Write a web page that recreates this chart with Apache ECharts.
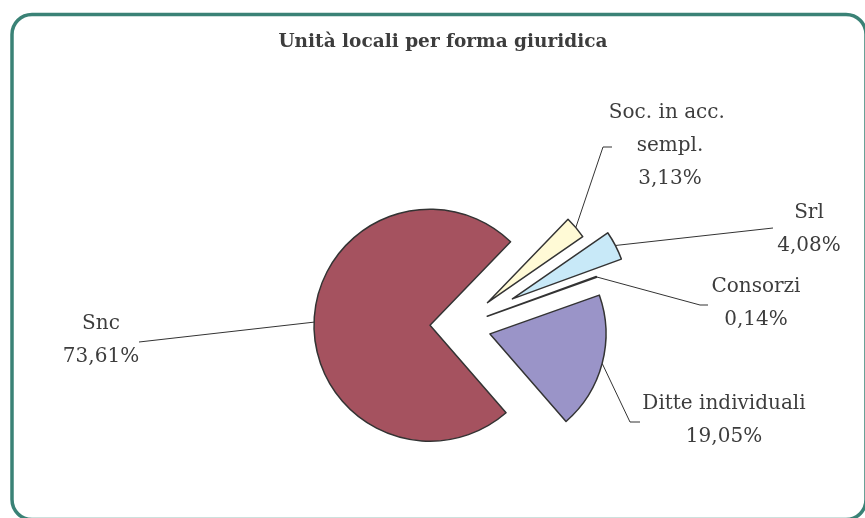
<!DOCTYPE html>
<html><head><meta charset="utf-8">
<script src="https://cdn.jsdelivr.net/npm/echarts@6/dist/echarts.min.js"></script>
<style>html,body{margin:0;padding:0;background:#fff}#c{width:865px;height:518px}</style>
</head><body><div id="c"></div>
<script>
const title = 'Unità locali per forma giuridica';
const categories = ['Soc. in acc. sempl.', 'Srl', 'Consorzi', 'Ditte individuali', 'Snc'];
const values = [3.13, 4.08, 0.14, 19.05, 73.61];

const colors = ['#FFFAD6', '#C8E9F8', '#FFFFFF', '#9A94C8', '#A5525F'];
const explode = [36, 59, 29, 31, 30];
const labelPos = [[670, 146], [809, 229], [756, 303], [724, 420], [101, 340]];
const labelBend = [[603, 147, 612, 147], [773, 228, 773, 228], [700, 305, 708, 305], [630, 422, 640, 422], [139, 342, 139, 342]];
const labelWidths = [135, 80, 120, 240, 100];
const FONT = 'DejaVu Serif';
const BASE = [460, 326];
const START = 46;

const total = values.reduce((a, b) => a + b, 0);
let cum = 0;
const chart = echarts.init(document.getElementById('c'));
const series = categories.map((cat, i) => {
  const mid = (START - (cum + values[i] / 2) / total * 360) * Math.PI / 180;
  cum += values[i];
  return {
    type: 'pie',
    center: [BASE[0] + explode[i] * Math.cos(mid), BASE[1] - explode[i] * Math.sin(mid)],
    radius: [0, 116],
    startAngle: START,
    clockwise: true,
    avoidLabelOverlap: false,
    emphasis: { disabled: true },
    z: 2,
    label: {
      show: true, position: 'outside', fontFamily: FONT, fontSize: 20, color: '#3d3d3d',
      lineHeight: 33, align: 'center', width: labelWidths[i], overflow: 'break',
      formatter: p => p.name + '\n' + p.value.toFixed(2).replace('.', ',') + '%'
    },
    labelLine: { show: true, lineStyle: { color: '#333', width: 1 } },
    labelLayout: params => {
      if (params.dataIndex !== i) return {};
      const b = labelBend[i];
      const p0 = params.labelLinePoints ? params.labelLinePoints[0] : [0, 0];
      return {
        x: labelPos[i][0], y: labelPos[i][1], align: 'center', verticalAlign: 'middle',
        labelLinePoints: [p0, [b[0], b[1]], [b[2], b[3]]]
      };
    },
    data: categories.map((c, j) => ({
      name: c, value: values[j],
      itemStyle: j === i ? { color: colors[j], borderColor: '#333', borderWidth: 1.5 }
                         : { color: 'rgba(0,0,0,0)', borderWidth: 0 },
      label: { show: j === i },
      labelLine: { show: j === i }
    }))
  };
});

chart.setOption({
  animation: false,
  title: {
    text: title, left: 438, top: 28, textAlign: 'center',
    textStyle: { fontFamily: FONT, fontSize: 18.5, fontWeight: 'bold', color: '#3d3d3d' }
  },
  graphic: [{
    type: 'rect', z: 10, silent: true,
    shape: { x: 12, y: 14.5, width: 854, height: 505, r: 20 },
    style: { fill: 'none', stroke: '#3A8276', lineWidth: 3.5 }
  }],
  series
});
</script></body></html>
